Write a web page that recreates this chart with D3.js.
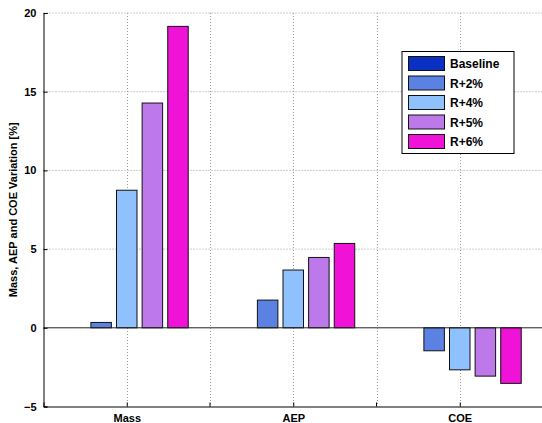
<!DOCTYPE html>
<html><head><meta charset="utf-8">
<script src="https://cdn.jsdelivr.net/npm/d3@7/dist/d3.min.js"></script>
<style>
html,body{margin:0;padding:0;background:#fff;}
svg{display:block;font-family:"Liberation Sans",Arial,Helvetica,sans-serif;}
</style></head>
<body>
<script>
const categories = ["Mass", "AEP", "COE"];
const seriesNames = ["Baseline", "R+2%", "R+4%", "R+5%", "R+6%"];
const baseline = [0, 0, 0];
const r2 = [0.34, 1.76, -1.46];
const r4 = [8.74, 3.67, -2.67];
const r5 = [14.28, 4.47, -3.07];
const r6 = [19.15, 5.36, -3.53];
const seriesValues = [baseline, r2, r4, r5, r6];
const colors = ["#0b2fc0", "#5b82e2", "#8fc1fe", "#bd79ea", "#f012d6"];
const yTicks = [-5, 0, 5, 10, 15, 20];
const yLabel = "Mass, AEP and COE Variation [%]";

const W = 542, H = 423;
const svg = d3.select("body").append("svg").attr("width", W).attr("height", H);

const x = d3.scaleLinear().domain([0.5, 3.5]).range([43.5, 543]);
const y = d3.scaleLinear().domain([-5, 20]).range([406.5, 13]);

const nS = seriesNames.length;
const groupW = Math.min(0.8, nS / (nS + 1.5));
const pitch = groupW / nS;
const barW = pitch * 0.8;

// grid
const grid = svg.append("g");
[5, 10, 15, 20].forEach(v => {
  grid.append("line").attr("x1", x(0.5)).attr("x2", W).attr("y1", y(v)).attr("y2", y(v))
    .attr("stroke", "#999").attr("stroke-width", 1).attr("stroke-dasharray", "1,2");
});
d3.range(1, 3.51, 0.5).forEach(v => {
  grid.append("line").attr("x1", Math.round(x(v)) + 0.5).attr("x2", Math.round(x(v)) + 0.5)
    .attr("y1", y(20)).attr("y2", y(-5))
    .attr("stroke", "#999").attr("stroke-width", 1).attr("stroke-dasharray", "1,2");
});

// bars
const bars = svg.append("g");
seriesValues.forEach((vals, j) => {
  vals.forEach((v, i) => {
    const cx = (i + 1) + (j - (nS - 1) / 2) * pitch;
    const x0 = x(cx - barW / 2), x1 = x(cx + barW / 2);
    const yt = y(Math.max(0, v)), yb = y(Math.min(0, v));
    bars.append("rect").attr("x", x0).attr("y", yt).attr("width", x1 - x0).attr("height", Math.max(0, yb - yt))
      .attr("fill", colors[j]).attr("stroke", "#111").attr("stroke-width", 1);
  });
});

// zero baseline
svg.append("line").attr("x1", x(0.5)).attr("x2", W).attr("y1", y(0)).attr("y2", y(0))
  .attr("stroke", "#222").attr("stroke-width", 1);

// axes
const yAxis = d3.axisLeft(y).tickValues(yTicks).tickSize(-4).tickPadding(7).tickFormat(d => d < 0 ? "\u2212" + Math.abs(d) : d);
const gy = svg.append("g").attr("transform", `translate(${x(0.5)},0)`).call(yAxis);
gy.select(".domain").attr("stroke", "#000");
gy.selectAll("text").attr("font-size", 11).attr("font-weight", "bold").attr("fill", "#000")
  .attr("font-family", "Liberation Sans, Arial, sans-serif");

const xAxis = d3.axisBottom(x).tickValues([1, 2, 3]).tickSize(-4).tickPadding(8).tickFormat((d, i) => categories[i]);
const gx = svg.append("g").attr("transform", `translate(0,${y(-5)})`).call(xAxis);
gx.select(".domain").attr("stroke", "#000");
gx.selectAll("text").attr("font-size", 11).attr("font-weight", "bold").attr("fill", "#000")
  .attr("font-family", "Liberation Sans, Arial, sans-serif");
[1.5, 2.5].forEach(v => {
  gx.append("line").attr("x1", x(v)).attr("x2", x(v)).attr("y1", 0).attr("y2", -4).attr("stroke", "#000");
});

// y label
svg.append("text").attr("transform", `translate(17,${(y(20) + y(-5)) / 2}) rotate(-90)`)
  .attr("text-anchor", "middle").attr("font-size", 11).attr("font-weight", "bold").text(yLabel);

// legend
const lg = svg.append("g");
lg.append("rect").attr("x", 402).attr("y", 51.5).attr("width", 112).attr("height", 102)
  .attr("fill", "#fff").attr("stroke", "#000").attr("stroke-width", 1);
seriesNames.forEach((name, j) => {
  const cy = 63.5 + j * 19.5;
  lg.append("rect").attr("x", 408.5).attr("y", cy - 7).attr("width", 36).attr("height", 14)
    .attr("fill", colors[j]).attr("stroke", "#111").attr("stroke-width", 1);
  lg.append("text").attr("x", 450).attr("y", cy + 4.5).attr("font-size", 12).attr("font-weight", "bold").text(name);
});
</script>
</body></html>
